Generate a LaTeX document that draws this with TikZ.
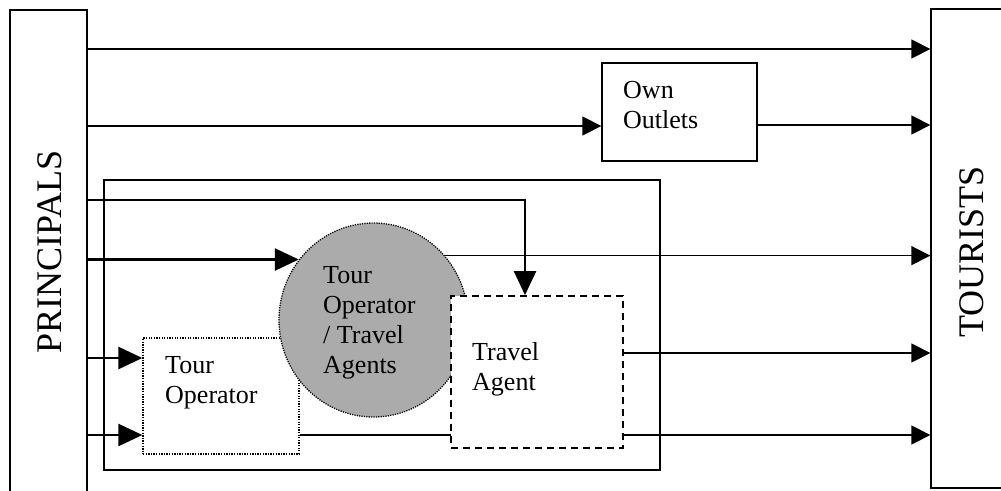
\documentclass[tikz,border=0pt]{standalone}
\usepackage{fontspec}
\setmainfont{Liberation Serif}
\usetikzlibrary{arrows.meta,shapes.geometric}
\definecolor{halftone}{HTML}{ABABAB}
\begin{document}
\begin{tikzpicture}[x=1pt,y=-1pt,
  flow/.style={line width=1.3pt, -{Triangle[length=19pt,width=19pt]}},
  strongflow/.style={line width=2.6pt, -{Triangle[length=24pt,width=22pt]}},
  frame/.style={draw, line width=1.3pt, rectangle, inner sep=0pt},
  lbl/.style={font=\fontsize{26}{30}\selectfont, align=left, anchor=north west, inner sep=0pt},
  side/.style={font=\fontsize{36}{40}\selectfont, rotate=90, inner sep=0pt}
]
\useasboundingbox (0,0) rectangle (1001,490);

% outer parties
\node[frame, minimum width=77pt, minimum height=484pt] (pri) at (48.5,252) {};
\node[side] (pri-text) at (50,252) {PRINCIPALS};
\node[frame, minimum width=82pt, minimum height=479pt] (tou) at (972,248.5) {};
\node[side] (tou-text) at (972,252) {TOURISTS};

% own outlets
\node[frame, minimum width=155pt, minimum height=98pt] (own) at (679.5,112) {};
\node[lbl] (own-text) at (623,81.5) {Own\\Outlets};

% intermediaries frame
\node[frame, minimum width=556pt, minimum height=290pt] (net) at (382,325) {};

% direct channels
\draw[flow] (pri.east |- 0,49) -- (tou.west |- 0,49);
\draw[flow] (pri.east |- 0,126) -- (own.west |- 0,126);
\draw[flow] (own.east |- 0,125) -- (tou.west |- 0,125);

% tour operator box (under the combined operator/agent)
\node[draw, fill=white, line width=1.3pt, dash pattern=on 1.3pt off 1.3pt,
      minimum width=156pt, minimum height=116pt, inner sep=0pt] (top) at (221,396) {};
\node[lbl] (top-text) at (165,356.5) {Tour\\Operator};

% flows through the tour operator (the lower one passes behind the agent)
\draw[strongflow] (pri.east |- 0,358) -- (top.west |- 0,358);
\draw[strongflow] (pri.east |- 0,435) -- (top.west |- 0,435);
\draw[flow] (top.east |- 0,435) -- (tou.west |- 0,435);

% combined tour operator / travel agents
\node[ellipse, draw, fill=halftone, line width=1.3pt, dash pattern=on 1.2pt off 1.2pt,
      minimum width=189pt, minimum height=194pt, inner sep=0pt] (mix) at (373.5,320) {};
\node[lbl] (mix-text) at (323,266.5) {Tour\\Operator\\/ Travel\\Agents};
\draw[strongflow] (pri.east |- mix.141.8) -- (mix.141.8);
\draw[flow] (mix.42) -- (tou.west |- mix.42);

% travel agent
\node[draw, fill=white, line width=1.8pt, dash pattern=on 7pt off 5pt,
      minimum width=172pt, minimum height=152pt, inner sep=0pt] (tra) at (537,372) {};
\node[lbl] (tra-text) at (472,342.5) {Travel\\Agent};
\draw[strongflow] (pri.east |- 0,200) -| ([xshift=-12pt]tra.north);
\draw[flow] (tra.east |- 0,353) -- (tou.west |- 0,353);
\end{tikzpicture}
\end{document}
